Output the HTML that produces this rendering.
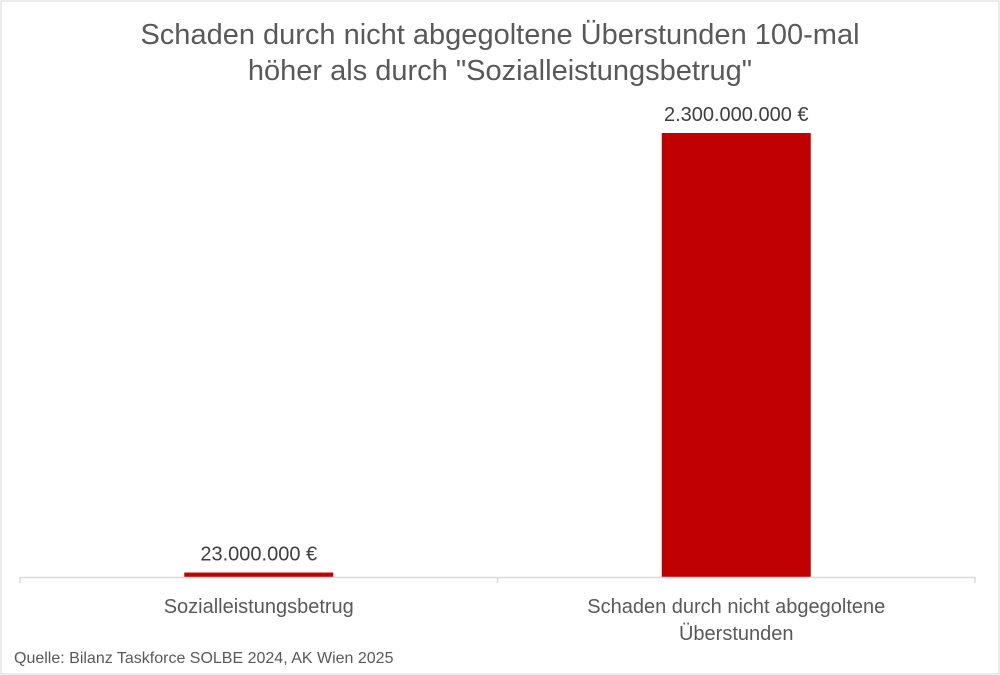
<!DOCTYPE html>
<html><head><meta charset="utf-8"><style>
body{margin:0;background:#fff}
svg{display:block;font-family:"Liberation Sans",sans-serif}
</style></head><body>
<svg id="c" width="1000" height="675" viewBox="0 0 1000 675">
<rect x="1" y="1" width="998" height="673" fill="#fff" stroke="#d9d9d9"/>
<text x="500" y="44" text-anchor="middle" font-size="29" fill="#595959">Schaden durch nicht abgegoltene Überstunden 100-mal</text>
<text x="500" y="80" text-anchor="middle" font-size="29" fill="#595959">höher als durch "Sozialleistungsbetrug"</text>
<g id="plot"></g>
<text x="14" y="663" font-size="16" fill="#595959">Quelle: Bilanz Taskforce SOLBE 2024, AK Wien 2025</text>
</svg>
<script>
const categories=[["Sozialleistungsbetrug"],["Schaden durch nicht abgegoltene","Überstunden"]];
const values=[23000000,2300000000];
const valueLabels=["23.000.000 €","2.300.000.000 €"];
const NS="http://www.w3.org/2000/svg";
const plotG=document.getElementById('plot');
const xStart=20,xEnd=975,yBase=577,yTop=133,maxV=2300000000;
const bw=(xEnd-xStart)/categories.length;
function yS(v){return yBase-(v/maxV)*(yBase-yTop);}
function mk(t,a){const e=document.createElementNS(NS,t);for(const k in a)e.setAttribute(k,a[k]);plotG.appendChild(e);return e;}
categories.forEach((c,i)=>{
 const cx=xStart+bw*(i+0.5),w=149,y=yS(values[i]);
 const r=mk('rect',{x:cx-w/2,y:y,width:w,height:yBase-y,fill:'#c00000'});
 
 
 const t=mk('text',{x:cx,y:y-12,'text-anchor':'middle','font-size':20,fill:'#404040'});
 t.textContent=valueLabels[i];
 
 
 c.forEach((line,j)=>{
  const l=mk('text',{x:cx,y:613+j*27,'text-anchor':'middle','font-size':20,fill:'#595959'});
  l.textContent=line;
  
  
 });
});
const ax=mk('line',{x1:xStart,x2:xEnd,y1:yBase+0.5,y2:yBase+0.5,stroke:'#d9d9d9','stroke-width':1.5});


for(let i=0;i<=categories.length;i++){
 const tk=mk('line',{x1:xStart+bw*i,x2:xStart+bw*i,y1:yBase,y2:yBase+6,stroke:'#d9d9d9','stroke-width':1.5});
 
 
}
</script>
</body></html>
